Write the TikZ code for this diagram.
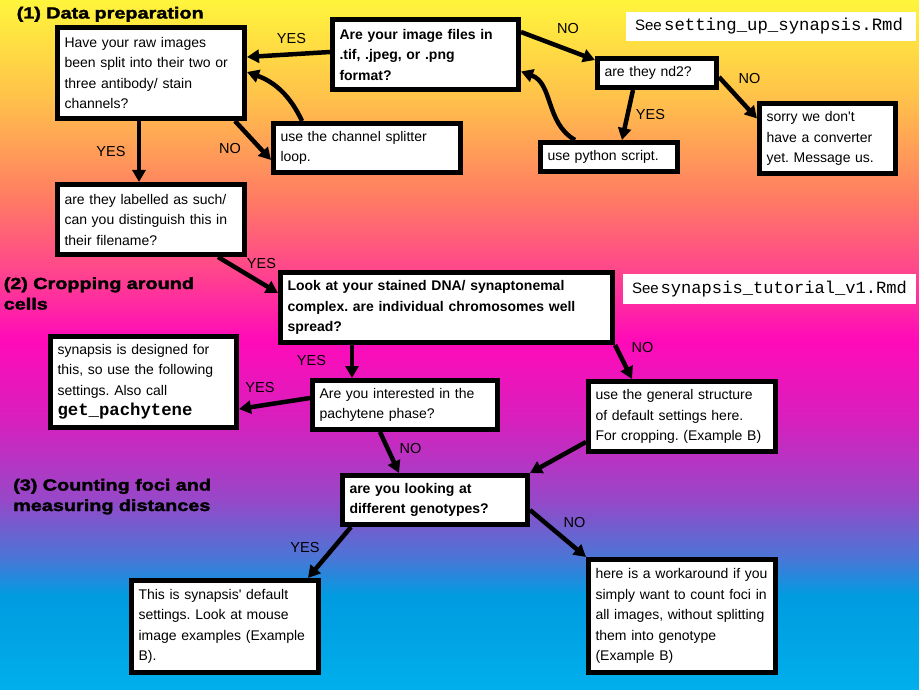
\documentclass[tikz,border=0pt]{standalone}
\usepackage{fontspec}
\setmainfont{Liberation Sans}
\setmonofont{Liberation Mono}
\newfontfamily\heavyfont{Liberation Sans}[FakeBold=2,FakeStretch=1.24]
\usetikzlibrary{arrows.meta,calc}
\frenchspacing
\definecolor{c0}{RGB}{255,245,60}
\definecolor{c1}{RGB}{255,192,75}
\definecolor{c2}{RGB}{255,122,100}
\definecolor{c3}{RGB}{255,70,140}
\definecolor{c4}{RGB}{255,10,185}
\definecolor{c5}{RGB}{215,32,190}
\definecolor{c6}{RGB}{150,72,200}
\definecolor{c7}{RGB}{70,120,215}
\definecolor{c8}{RGB}{0,155,225}
\definecolor{c9}{RGB}{0,175,235}
\begin{document}
\begin{tikzpicture}[x=1pt,y=-1pt,
  qbox/.style={draw=black, line width=5pt, fill=white, inner xsep=7pt, inner ysep=3pt, align=left, anchor=center, font=\fontsize{14}{20.5}\selectfont},
  qboldbox/.style={qbox, font=\bfseries\fontsize{14}{20.5}\selectfont},
  note/.style={fill=white, inner xsep=9pt, inner ysep=0pt, align=left, anchor=center, font=\fontsize{15}{18}\selectfont},
  heading/.style={anchor=base west, align=left, inner sep=0pt, text width=260pt, font=\heavyfont\bfseries\fontsize{16}{20.5}\selectfont},
  lbl/.style={inner sep=0pt, font=\fontsize{14.5}{17}\selectfont},
  arr/.style={line width=4.5pt, -{Triangle[length=12pt,width=13pt]}},
]
\useasboundingbox (0,0) rectangle (919,690);
% background gradient
\shade[top color=c0,bottom color=c1] (0,0) rectangle (919,100.5);
\shade[top color=c1,bottom color=c2] (0,100) rectangle (919,200.5);
\shade[top color=c2,bottom color=c3] (0,200) rectangle (919,270.5);
\shade[top color=c3,bottom color=c4] (0,270) rectangle (919,340.5);
\shade[top color=c4,bottom color=c5] (0,340) rectangle (919,420.5);
\shade[top color=c5,bottom color=c6] (0,420) rectangle (919,500.5);
\shade[top color=c6,bottom color=c7] (0,500) rectangle (919,560.5);
\shade[top color=c7,bottom color=c8] (0,560) rectangle (919,595.5);
\shade[top color=c8,bottom color=c9] (0,595) rectangle (919,690);

% headings
\node[heading] (h1) at (16.5,18.5) {(1) Data preparation};
\node[heading] (h2) at (3.5,289) {(2) Cropping around\\cells};
\node[heading] (h3) at (13,490.5) {(3) Counting foci and\\measuring distances};

% notes
\node[note, text width=272pt, minimum height=29pt] (G) at (771,26.5) {\mbox{See\hspace{2.5pt}{\ttfamily\fontsize{17.3}{18}\selectfont setting\_up\_synapsis.Rmd}}};
\node[note, text width=275pt, minimum height=30pt] (J) at (769.5,289) {\mbox{See\hspace{2pt}{\ttfamily\fontsize{17.1}{18}\selectfont synapsis\_tutorial\_v1.Rmd}}};

% boxes
\node[qbox, text width=173pt, minimum height=91pt] (A) at (151,73) {Have your raw images\\been split into their two or\\three antibody/ stain\\channels?};
\node[qboldbox, text width=172pt, minimum height=70pt] (B) at (425.5,54.5) {Are your image files in\\.tif, .jpeg, or .png\\format?};
\node[qbox, text width=173pt, minimum height=49pt] (C) at (367,148) {use the channel splitter\\loop.};
\node[qbox, text width=105pt, minimum height=29pt] (D) at (657,73) {are they nd2?};
\node[qbox, text width=123pt, minimum height=29pt] (E) at (609,157) {use python script.};
\node[qbox, text width=122pt, minimum height=70pt] (F) at (827.5,138.5) {sorry we don\textquotesingle t\\have a converter\\yet. Message us.};
\node[qbox, text width=173pt, minimum height=70pt] (H) at (151,219.5) {are they labelled as such/\\can you distinguish this in\\their filename?};
\node[qboldbox, text width=318pt, minimum height=70pt] (I) at (446.5,307.5) {Look at your stained DNA/ synaptonemal\\complex. are individual chromosomes well\\spread?};
\node[qbox, text width=172pt, minimum height=91pt] (K) at (143.5,382) {synapsis is designed for\\this, so use the following\\settings. Also call\\{\ttfamily\bfseries\fontsize{17.3}{20.5}\selectfont get\_pachytene}};
\node[qbox, text width=171pt, minimum height=49pt] (L) at (405,405) {Are you interested in the\\pachytene phase?};
\node[qbox, text width=173pt, minimum height=70pt] (M) at (682,416.5) {use the general structure\\of default settings here.\\For cropping. (Example B)};
\node[qboldbox, text width=171pt, minimum height=49pt] (N) at (435,500) {are you looking at\\different genotypes?};
\node[qbox, text width=173pt, minimum height=92pt] (O) at (225,626.5) {This is synapsis\textquotesingle\ default\\settings. Look at mouse\\image examples (Example\\B).};
\node[qbox, text width=173pt, minimum height=113pt] (P) at (682,616) {here is a workaround if you\\simply want to count foci in\\all images, without splitting\\them into genotype\\(Example B)};

% connectors
\draw[arr] ([yshift=2.5pt]B.west) -- ([yshift=16pt]A.east);
\draw[arr] ([xshift=31pt]C.north west) to[out=115,in=-20] ([yshift=1pt]A.east);
\draw[arr] ([xshift=-12pt]A.south east) -- ([yshift=-12pt]C.west);
\draw[arr] ([xshift=-12pt]A.south) -- ([xshift=-12pt]H.north);
\draw[arr] ([yshift=22.5pt]B.east) -- ([yshift=13pt]D.west);
\draw[arr] ([xshift=-24pt]D.south) -- ([xshift=13pt]E.north);
\draw[arr] ([yshift=-4pt]D.east) -- ([yshift=20pt]F.west);
\draw[arr] ([xshift=-34pt]E.north) to[out=150,in=-20] ([yshift=-17pt]B.east);
\draw[arr] ([xshift=-29pt]H.south east) -- ([yshift=14.5pt]I.west);
\draw[arr] ([xshift=-94.5pt]I.south) -- ([xshift=-53pt]L.north);
\draw[arr] ([yshift=7pt]L.west) -- ([yshift=-27pt]K.east);
\draw[arr] (I.south east) -- ([xshift=-50pt]M.north);
\draw[arr] ([xshift=-25pt]L.south) -- ([xshift=-36pt]N.north);
\draw[arr] ([yshift=-25.5pt]M.west) -- (N.north east);
\draw[arr] ([xshift=11pt]N.south west) -- ([xshift=83pt]O.north);
\draw[arr] ([yshift=-10pt]N.east) -- (P.north west);

% labels
\node[lbl] (l1) at (291.5,39) {YES};
\node[lbl] (l2) at (230,148.5) {NO};
\node[lbl] (l3) at (111,151.5) {YES};
\node[lbl] (l4) at (568,29) {NO};
\node[lbl] (l5) at (650.5,115) {YES};
\node[lbl] (l6) at (749.5,79) {NO};
\node[lbl] (l7) at (261.5,264) {YES};
\node[lbl] (l8) at (311.5,361) {YES};
\node[lbl] (l9) at (260,387.5) {YES};
\node[lbl] (l10) at (642.5,347.5) {NO};
\node[lbl] (l11) at (410.5,449) {NO};
\node[lbl] (l12) at (305,547.5) {YES};
\node[lbl] (l13) at (574.5,522.5) {NO};
\end{tikzpicture}
\end{document}
